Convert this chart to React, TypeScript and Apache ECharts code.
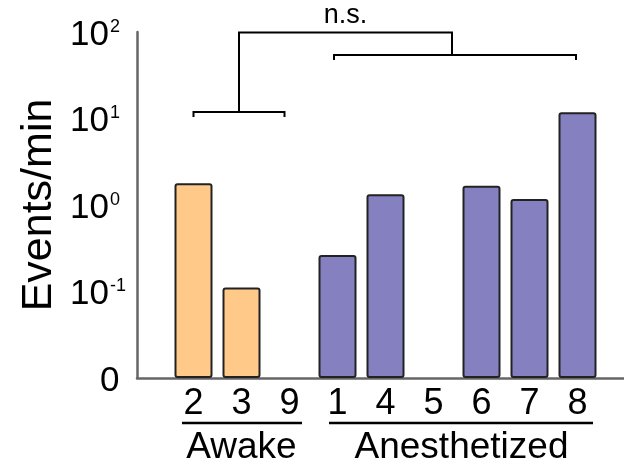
import React, { useEffect, useRef } from 'react';
import * as echarts from 'echarts';

const groups = ['Awake', 'Anesthetized'];
const awakeMice = ['2', '3', '9'];
const awakeRates = [1.78, 0.111, 0];
const anesthetizedMice = ['1', '4', '5', '6', '7', '8'];
const anesthetizedRates = [0.264, 1.33, 0, 1.67, 1.17, 11.8];
const yTickLabels = ['0', '10^-1', '10^0', '10^1', '10^2'];
const yAxisTitle = 'Events/min';
const significance = 'n.s.';
const axisFloor = 0.01; // the value drawn at the "0" tick

const FONT = '"Liberation Sans", Arial, Helvetica, sans-serif';

export default function App() {
  const ref = useRef<HTMLDivElement>(null);
  useEffect(() => {
    const chart = echarts.init(ref.current!, null, { renderer: 'svg' });
    const categories = [...awakeMice, ...anesthetizedMice];
    const nA = awakeMice.length;
    const toLog = (v: number) => (v > 0 ? Math.log10(v / axisFloor) : null);
    const awakeData = categories.map((_, i) => (i < nA ? toLog(awakeRates[i]) : null));
    const anesData = categories.map((_, i) => (i >= nA ? toLog(anesthetizedRates[i - nA]) : null));
    const yMax = yTickLabels.length - 1;
    const top = 32;
    const bottom = 87;
    const axisColor = '#666';

    const fmt = (v: number) => {
      const s = yTickLabels[Math.round(v)];
      if (!s.includes('^')) return '{zero|' + s + '}';
      const [b, e] = s.split('^');
      return '{base|' + b + '}{sup|' + e + '}';
    };

    chart.setOption({
      animation: false,
      grid: [
        { left: 137, right: 0, top, bottom },
        { left: 169.5, right: 22.5, top, bottom },
      ],
      xAxis: [
        {
          type: 'value', gridIndex: 0, min: 0, max: 1,
          axisLine: { show: true, lineStyle: { color: axisColor, width: 2.5 } },
          axisTick: { show: false }, axisLabel: { show: false }, splitLine: { show: false },
        },
        {
          type: 'category', gridIndex: 1, data: categories,
          axisLine: { show: false }, axisTick: { show: false }, splitLine: { show: false },
          axisLabel: { margin: 5, fontSize: 36, color: '#000', fontFamily: FONT, interval: 0 },
        },
      ],
      yAxis: [
        {
          type: 'value', gridIndex: 0, min: 0, max: yMax, interval: 1,
          axisLine: { show: true, lineStyle: { color: axisColor, width: 2.5 } },
          axisTick: { show: false }, splitLine: { show: false },
          name: yAxisTitle, nameLocation: 'middle', nameGap: 80,
          nameTextStyle: { fontSize: 43, color: '#000', fontFamily: FONT },
          axisLabel: {
            align: 'left', margin: 67, formatter: fmt,
            rich: {
              base: { fontSize: 35, color: '#000', fontFamily: FONT, lineHeight: 35 },
              sup: { fontSize: 18, color: '#000', fontFamily: FONT, verticalAlign: 'top', lineHeight: 18, padding: [2, 0, 0, 1] },
              zero: { fontSize: 35, color: '#000', fontFamily: FONT, lineHeight: 35, padding: [0, 0, 0, 30] },
            },
          },
        },
        {
          type: 'value', gridIndex: 1, min: 0, max: yMax, interval: 1, show: false,
          splitLine: { show: false },
        },
      ],
      series: [
        {
          name: groups[0], type: 'bar', xAxisIndex: 1, yAxisIndex: 1, data: awakeData,
          barWidth: 38, barGap: '-100%',
          itemStyle: { color: '#FFC98A', borderColor: '#222', borderWidth: 2, borderRadius: 2 },
        },
        {
          name: groups[1], type: 'bar', xAxisIndex: 1, yAxisIndex: 1, data: anesData,
          barWidth: 38, barGap: '-100%',
          itemStyle: { color: '#8580BF', borderColor: '#222', borderWidth: 2, borderRadius: 2 },
        },
      ],
    });

    const px = (i: number) => chart.convertToPixel({ xAxisIndex: 1 }, categories[i]) as number;
    const py = (v: number) => chart.convertToPixel({ yAxisIndex: 1 }, v) as number;
    const last = categories.length - 1;

    const yAw = py(3.075);
    const yAn = py(3.734);
    const yTop = py(3.994);
    const yUnder = py(0) + 45;
    const yGroup = py(0) + 67;

    const aw0 = px(0);
    const aw1 = px(nA - 1) - 5;
    const an0 = px(nA) - 3.5;
    const an1 = px(last) - 1.5;
    const awMid = (aw0 + aw1) / 2;
    const anMid = (an0 + an1) / 2 - 3;
    const stroke = { stroke: '#000', lineWidth: 2, fill: 'none' };

    const textStyle = (text: string, size: number) => ({
      text, fontSize: size, fontFamily: FONT, fill: '#000', textAlign: 'center', textVerticalAlign: 'middle',
    });

    chart.setOption({
      graphic: [
        { type: 'polyline', shape: { points: [[aw0, yAw + 5], [aw0, yAw], [aw1, yAw], [aw1, yAw + 5]] }, style: stroke },
        { type: 'polyline', shape: { points: [[an0, yAn + 5], [an0, yAn], [an1, yAn], [an1, yAn + 5]] }, style: stroke },
        { type: 'polyline', shape: { points: [[awMid, yAw], [awMid, yTop], [anMid, yTop], [anMid, yAn]] }, style: stroke },
        { type: 'text', x: (awMid + anMid) / 2, y: yTop - 19, style: textStyle(significance, 27) },
        { type: 'line', shape: { x1: px(0) - 11.5, y1: yUnder, x2: px(nA - 1) + 12.5, y2: yUnder }, style: { stroke: '#000', lineWidth: 2.5 } },
        { type: 'line', shape: { x1: px(nA) - 8.5, y1: yUnder, x2: px(last) + 15.5, y2: yUnder }, style: { stroke: '#000', lineWidth: 2.5 } },
        { type: 'text', x: px(1), y: yGroup, style: textStyle(groups[0], 37) },
        { type: 'text', x: (px(nA) + px(last)) / 2 + 4, y: yGroup, style: textStyle(groups[1], 37) },
      ],
    });

    return () => chart.dispose();
  }, []);
  return <div ref={ref} style={{ position: 'fixed', left: 0, top: 0, width: 624, height: 465 }} />;
}
